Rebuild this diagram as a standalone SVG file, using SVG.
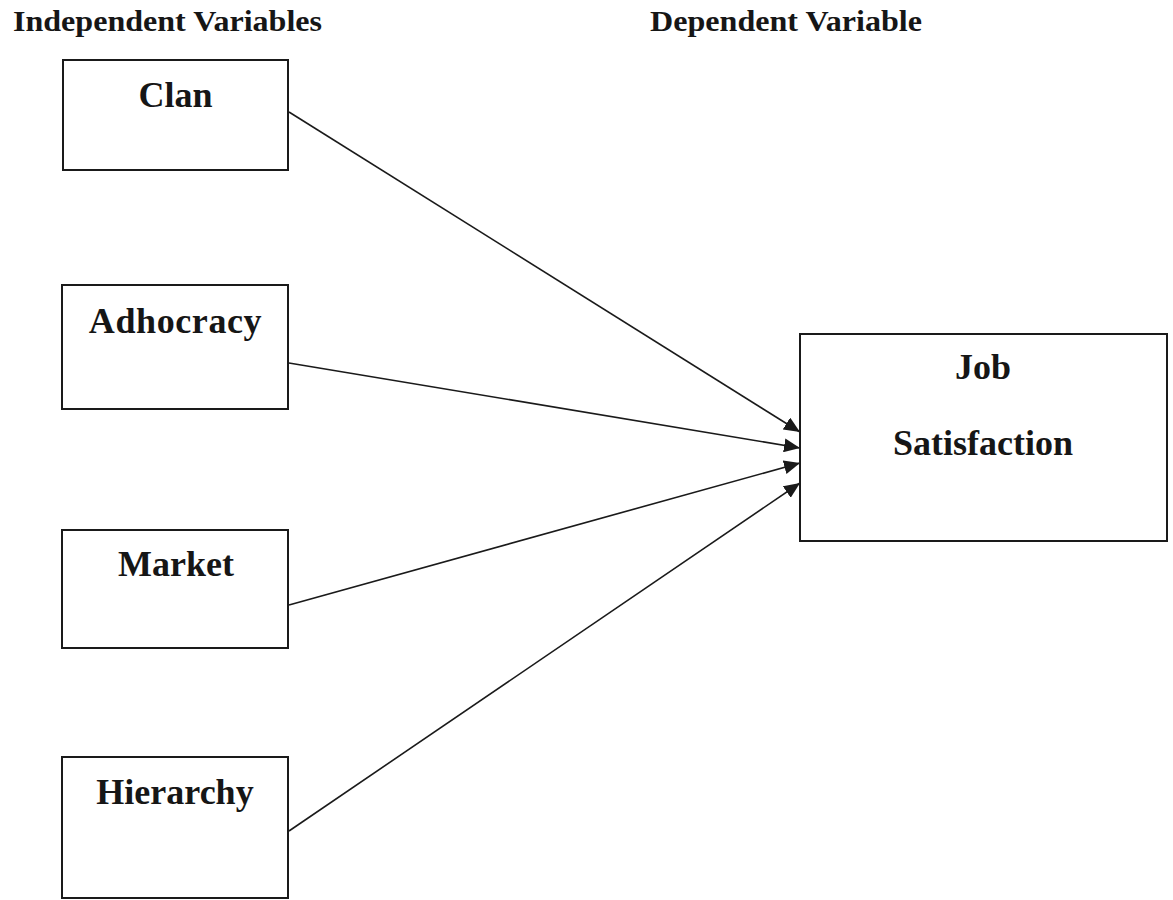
<svg xmlns="http://www.w3.org/2000/svg" width="1173" height="900" viewBox="0 0 1173 900">
<style>
.box{fill:#fff;stroke:#1a1a1a;stroke-width:2}
.t{font-family:"Liberation Serif","Times New Roman",serif;font-weight:bold;fill:#161616}
.lbl{font-size:36px;text-anchor:middle}
.hdr{font-size:29px}
.edge{stroke:#1a1a1a;stroke-width:1.6;fill:none;marker-end:url(#ah)}
</style>
<defs>
<marker id="ah" markerUnits="userSpaceOnUse" markerWidth="18" markerHeight="14" refX="16" refY="7" orient="auto">
<path d="M0,0 L16,7 L0,14 Z" fill="#1a1a1a"/>
</marker>
</defs>
<rect width="1173" height="900" fill="#fff"/>
<text class="t hdr" x="13" y="31" textLength="309" lengthAdjust="spacingAndGlyphs">Independent Variables</text>
<text class="t hdr" x="650" y="31" textLength="272" lengthAdjust="spacingAndGlyphs">Dependent Variable</text>
<g id="edges">
<line class="edge" x1="289" y1="112" x2="800" y2="432"/>
<line class="edge" x1="289" y1="363" x2="800" y2="448"/>
<line class="edge" x1="289" y1="605" x2="800" y2="463"/>
<line class="edge" x1="289" y1="831" x2="800" y2="483"/>
</g>
<g id="clan">
<rect class="box" x="63" y="60" width="225" height="110"/>
<text class="t lbl" x="175.5" y="107">Clan</text>
</g>
<g id="adhocracy">
<rect class="box" x="62" y="285" width="226" height="124"/>
<text class="t lbl" x="175.5" y="333" letter-spacing="0.6">Adhocracy</text>
</g>
<g id="market">
<rect class="box" x="62" y="530" width="226" height="118"/>
<text class="t lbl" x="176" y="576">Market</text>
</g>
<g id="hierarchy">
<rect class="box" x="62" y="757" width="226" height="141"/>
<text class="t lbl" x="175" y="804">Hierarchy</text>
</g>
<g id="job">
<rect class="box" x="800" y="334" width="367" height="207"/>
<text class="t lbl" x="983" y="379">Job</text>
<text class="t lbl" x="983" y="455">Satisfaction</text>
</g>
</svg>
